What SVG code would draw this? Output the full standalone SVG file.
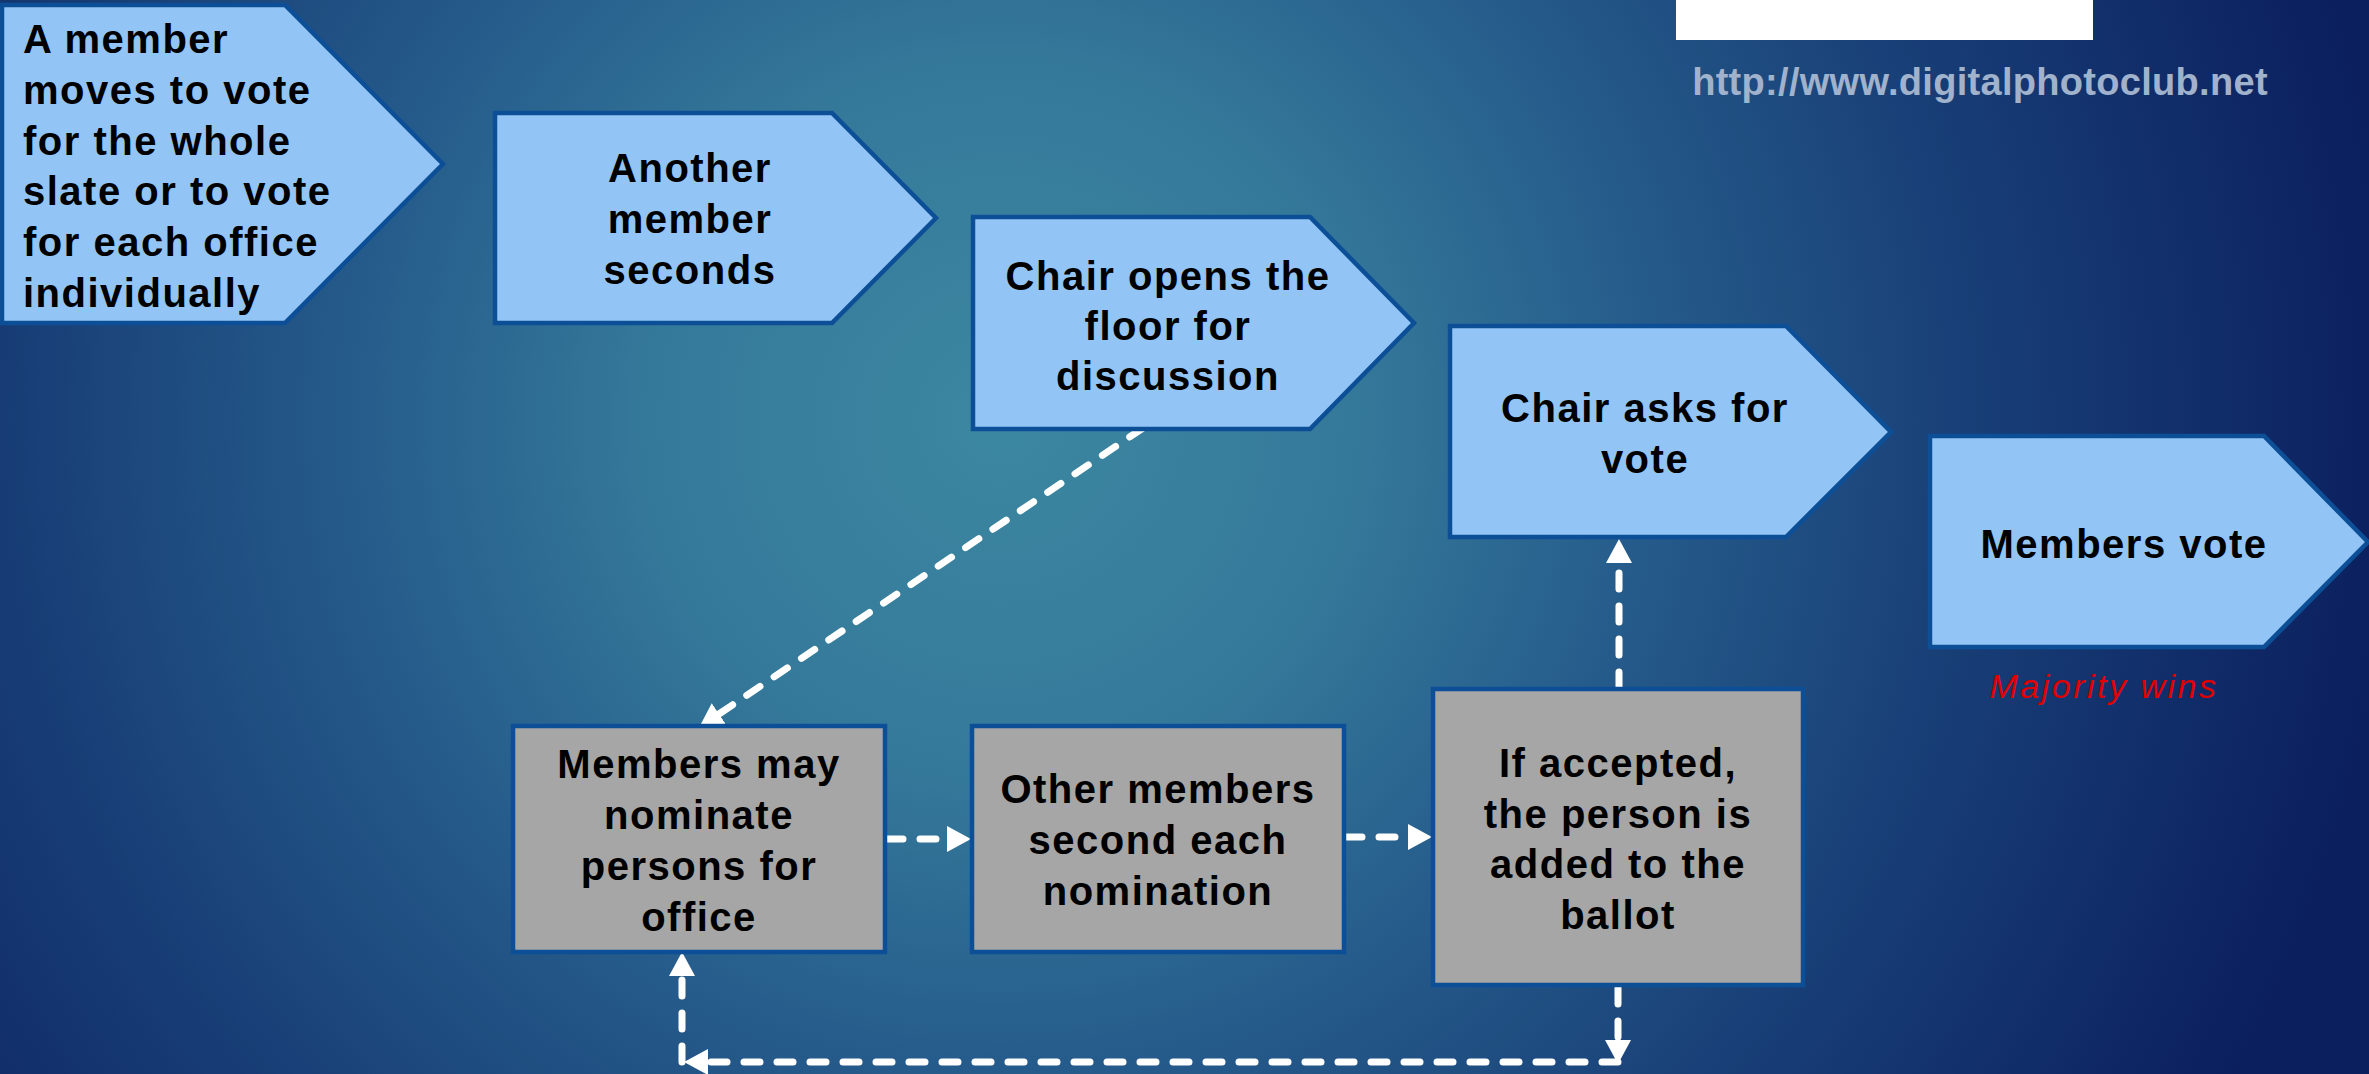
<svg xmlns="http://www.w3.org/2000/svg" width="2369" height="1074" viewBox="0 0 2369 1074">
<defs>
<radialGradient id="bg" gradientUnits="userSpaceOnUse" cx="1000" cy="420" r="1400">
<stop offset="0" stop-color="#3c87a1"/>
<stop offset="0.25" stop-color="#35799a"/>
<stop offset="0.45" stop-color="#265d8c"/>
<stop offset="0.7" stop-color="#183e76"/>
<stop offset="1" stop-color="#0b1f5e"/>
</radialGradient>
<marker id="arr" viewBox="0 -13 24 26" refX="0" refY="0" markerWidth="24" markerHeight="26" markerUnits="userSpaceOnUse" orient="auto">
<path d="M0,-13 L24,0 L0,13 Z" fill="#ffffff"/>
</marker>
<style>
.pent{fill:#92c5f5;stroke:#0d4f97;stroke-width:4.5;stroke-linejoin:miter}
.box{fill:#a6a6a6;stroke:#0d4f97;stroke-width:4.5}
.t{font-family:"Liberation Sans",Arial,sans-serif;font-weight:bold;font-size:40px;letter-spacing:1.5px;fill:#000000}
.c{text-anchor:middle}
.con{fill:none;stroke:#ffffff;stroke-width:7;stroke-linecap:round;stroke-dasharray:16 17;marker-end:url(#arr)}
.web{font-family:"Liberation Sans",Arial,sans-serif;font-weight:bold;font-size:38px;letter-spacing:0.3px;fill:#a0b2cc;text-anchor:middle}
.note{font-family:"Liberation Sans",Arial,sans-serif;font-style:italic;font-size:34px;letter-spacing:2.5px;fill:#e00000;text-anchor:middle}
</style>
</defs>
<rect x="0" y="0" width="2369" height="1074" fill="url(#bg)"/>
<rect x="1676" y="0" width="417" height="40" fill="#ffffff"/>
<text class="web" x="1980" y="95">http://www.digitalphotoclub.net</text>

<g id="connectors">
<path class="con" d="M1143,428 L719,714"/>
<path class="con" d="M887,839 L947,839"/>
<path class="con" d="M1346,837 L1408,837"/>
<path class="con" d="M1619,688 L1619,563"/>
<path class="con" d="M1618,988 L1618,1040"/>
<path class="con" d="M1618,1062 L708,1062"/>
<path class="con" d="M682,1062 L682,976"/>
</g>

<g id="node-move">
<polygon class="pent" points="2,5 285,5 443,164 285,323 2,323"/>
<text class="t" x="23" y="53">A member</text>
<text class="t" x="23" y="104">moves to vote</text>
<text class="t" x="23" y="155">for the whole</text>
<text class="t" x="23" y="205">slate or to vote</text>
<text class="t" x="23" y="256">for each office</text>
<text class="t" x="23" y="307">individually</text>
</g>

<g id="node-second">
<polygon class="pent" points="495,113 832,113 936,218 832,323 495,323"/>
<text class="t c" x="690" y="182">Another</text>
<text class="t c" x="690" y="233">member</text>
<text class="t c" x="690" y="284">seconds</text>
</g>

<g id="node-discussion">
<polygon class="pent" points="973,217 1310,217 1414,323 1310,429 973,429"/>
<text class="t c" x="1168" y="290">Chair opens the</text>
<text class="t c" x="1168" y="340">floor for</text>
<text class="t c" x="1168" y="390">discussion</text>
</g>

<g id="node-askvote">
<polygon class="pent" points="1450,326 1786,326 1891,432 1786,537 1450,537"/>
<text class="t c" x="1645" y="422">Chair asks for</text>
<text class="t c" x="1645" y="473">vote</text>
</g>

<g id="node-membersvote">
<polygon class="pent" points="1930,436 2264,436 2368,542 2264,647 1930,647"/>
<text class="t c" x="2124" y="558">Members vote</text>
<text class="note" x="2104" y="698">Majority wins</text>
</g>

<g id="node-nominate">
<rect class="box" x="513" y="726" width="372" height="226"/>
<text class="t c" x="699" y="778">Members may</text>
<text class="t c" x="699" y="829">nominate</text>
<text class="t c" x="699" y="880">persons for</text>
<text class="t c" x="699" y="931">office</text>
</g>

<g id="node-secondnom">
<rect class="box" x="972" y="726" width="372" height="226"/>
<text class="t c" x="1158" y="803">Other members</text>
<text class="t c" x="1158" y="854">second each</text>
<text class="t c" x="1158" y="905">nomination</text>
</g>

<g id="node-accepted">
<rect class="box" x="1433" y="689" width="370" height="296"/>
<text class="t c" x="1618" y="777">If accepted,</text>
<text class="t c" x="1618" y="828">the person is</text>
<text class="t c" x="1618" y="878">added to the</text>
<text class="t c" x="1618" y="929">ballot</text>
</g>
</svg>
